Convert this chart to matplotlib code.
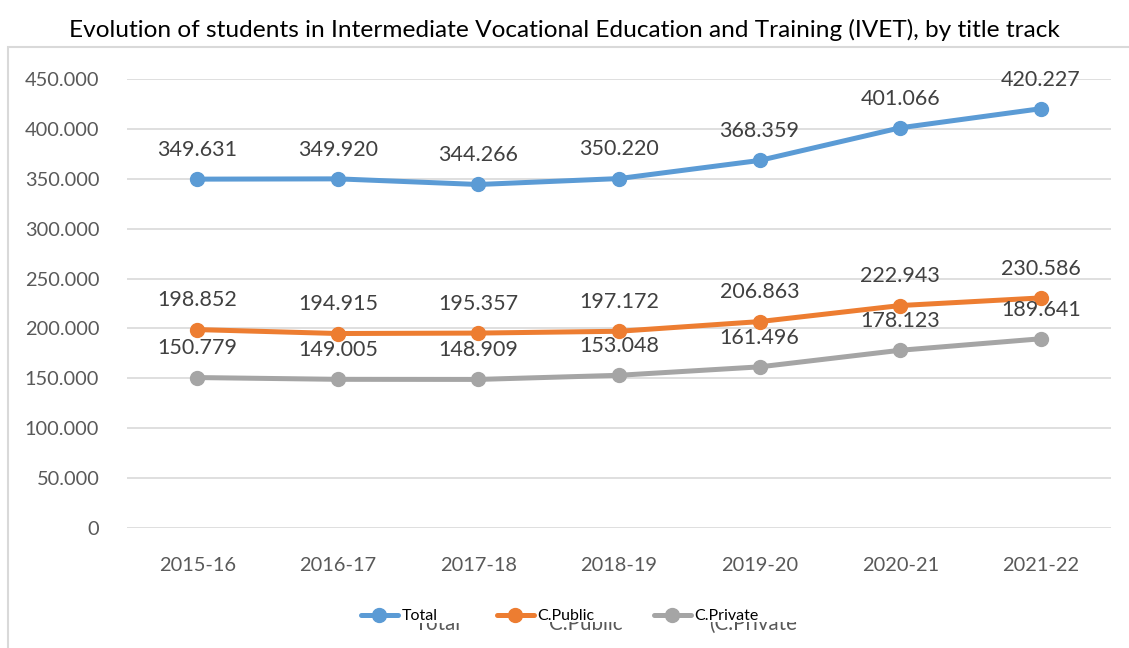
import matplotlib
matplotlib.use("Agg")
import matplotlib.pyplot as plt
from matplotlib.patches import Rectangle
from matplotlib.ticker import FuncFormatter
from matplotlib.legend_handler import HandlerLine2D

plt.rcParams['font.family'] = ['Lato', 'DejaVu Sans']

years = ["2015-16", "2016-17", "2017-18", "2018-19", "2019-20", "2020-21", "2021-22"]
total = [349631, 349920, 344266, 350220, 368359, 401066, 420227]
public = [198852, 194915, 195357, 197172, 206863, 222943, 230586]
private = [150779, 149005, 148909, 153048, 161496, 178123, 189641]

series = [("Total", total, "#5b9bd5"),
          ("C.Public", public, "#ed7d31"),
          ("C.Private", private, "#a5a5a5")]


# legend key with the marker near the right end of the line, like Excel
class MarkerRight(HandlerLine2D):
    def get_xdata(self, legend, xdescent, ydescent, width, height, fontsize):
        return [-xdescent, -xdescent + width], [-xdescent + width * 0.78]


W, H = 1129, 648
fig = plt.figure(figsize=(W / 100, H / 100), dpi=100)
ax = fig.add_axes([127 / W, 1 - 528 / H, (1111 - 127) / W, (528 - 79) / H])

# chart border (Excel style)
fig.patches.append(Rectangle((8 / W, -0.1), 1.2, 1 - 47 / H + 0.1, transform=fig.transFigure,
                             fill=False, edgecolor="#d9d9d9", linewidth=1.5, zorder=0))

x = list(range(len(years)))
for name, vals, col in series:
    ax.plot(x, vals, color=col, lw=3.6, marker="o", markersize=10, label=name,
            solid_capstyle="round", zorder=3)
    for xi, v in zip(x, vals):
        ax.annotate(f"{v:,}".replace(",", "."), (xi, v), xytext=(0, 21),
                    textcoords="offset points", ha="center", va="center",
                    fontsize=15.5, color="#404040", zorder=4)

ax.set_xlim(-0.5, len(years) - 0.5)
ax.set_ylim(0, 450000)
ax.set_yticks(range(0, 450001, 50000))
ax.yaxis.set_major_formatter(FuncFormatter(lambda v, p: f"{int(v):,}".replace(",", ".")))
ax.set_xticks(x)
ax.set_xticklabels(years)
ax.grid(axis="y", color="#d9d9d9", lw=1.2)
ax.set_axisbelow(True)
for s in ax.spines.values():
    s.set_visible(False)
ax.tick_params(length=0, labelsize=14.4, labelcolor="#595959")
ax.tick_params(axis="x", pad=21)
ax.tick_params(axis="y", pad=20)

fig.text(0.5, 1 - 30 / H, "Evolution of students in Intermediate Vocational Education and Training (IVET), by title track",
         ha="center", va="center", fontsize=17.6, color="black")

# faint duplicated legend text, upper half hidden behind the legend area
for gx, gt in [(438, "Total"), (586, "C.Public"), (753, "(C.Private")]:
    fig.text(gx / W, 1 - 630 / H, gt, ha="center", va="baseline", fontsize=14.8,
             color="#595959", zorder=1)
fig.patches.append(Rectangle((340 / W, 1 - 623 / H), 122 / W, 30 / H, transform=fig.transFigure,
                             facecolor="white", edgecolor="none", zorder=2))
fig.patches.append(Rectangle((462 / W, 1 - 622 / H), 360 / W, 30 / H, transform=fig.transFigure,
                             facecolor="white", edgecolor="none", zorder=2))

leg = fig.legend(loc="center", bbox_to_anchor=(0.496, 1 - 616 / H), ncol=3, frameon=False,
                 fontsize=11.5, handlelength=2.3, handletextpad=0.25, columnspacing=3.7,
                 handler_map={plt.Line2D: MarkerRight()})
leg.set_zorder(5)

fig.savefig("out.png", dpi=100)
